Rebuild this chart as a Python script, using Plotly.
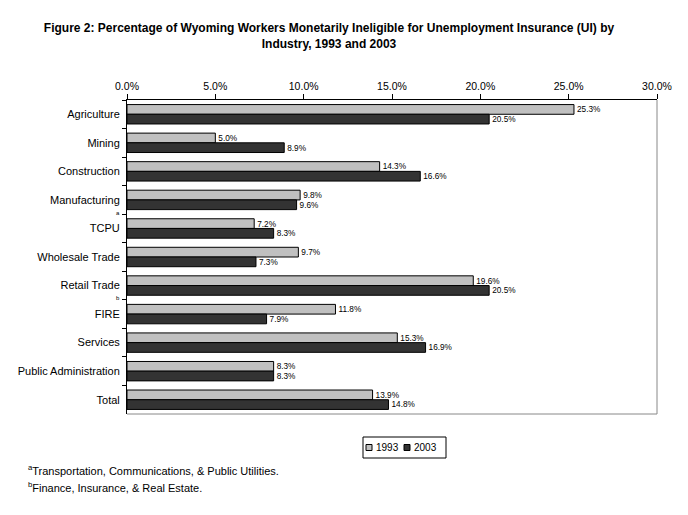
import plotly.graph_objects as go

categories = ["Agriculture", "Mining", "Construction", "Manufacturing", "TCPU",
              "Wholesale Trade", "Retail Trade", "FIRE", "Services",
              "Public Administration", "Total"]
values_1993 = [25.3, 5.0, 14.3, 9.8, 7.2, 9.7, 19.6, 11.8, 15.3, 8.3, 13.9]
values_2003 = [20.5, 8.9, 16.6, 9.6, 8.3, 7.3, 20.5, 7.9, 16.9, 8.3, 14.8]
series_names = ["1993", "2003"]
series_colors = ["#C0C0C0", "#333333"]
tick_values = [0, 5, 10, 15, 20, 25, 30]

LF = "Liberation Sans"

# plot area in screen pixels (page has an 8px body margin)
PX0, PX1, PY0, PY1 = 127, 657, 100, 414


def px(sx):
    return (sx - PX0) / (PX1 - PX0)


def py(sy):
    return (PY1 - sy) / (PY1 - PY0)


fig = go.Figure()
for name, vals, col in zip(series_names, [values_1993, values_2003], series_colors):
    fig.add_trace(go.Bar(
        y=categories, x=vals, name=name, orientation="h",
        marker=dict(color=col, line=dict(color="black", width=1)),
        text=[f"{v:.1f}%" for v in vals], textposition="outside",
        textfont=dict(family=LF, size=8.5, color="black"), cliponaxis=False,
        showlegend=False,
    ))

shapes = [
    dict(type="line", xref="paper", yref="paper", x0=1, x1=1, y0=0, y1=1,
         line=dict(color="#888888", width=1)),
    dict(type="line", xref="paper", yref="paper", x0=0, x1=1, y0=0, y1=0,
         line=dict(color="#888888", width=1)),
    # legend box
    dict(type="rect", xref="paper", yref="paper", x0=px(363), x1=px(446),
         y0=py(458), y1=py(437), line=dict(color="black", width=1), fillcolor="white"),
]
annotations = [
    dict(text="a", xref="paper", yref="y", x=px(118), y=3.45, showarrow=False,
         font=dict(family=LF, size=6, color="black"), xanchor="center"),
    dict(text="b", xref="paper", yref="y", x=px(118), y=6.45, showarrow=False,
         font=dict(family=LF, size=6, color="black"), xanchor="center"),
    dict(text="<sup>a</sup>Transportation, Communications, & Public Utilities.",
         xref="paper", yref="paper", x=px(26), y=py(470), xanchor="left", yanchor="middle",
         showarrow=False, font=dict(family=LF, size=11, color="black")),
    dict(text="<sup>b</sup>Finance, Insurance, & Real Estate.",
         xref="paper", yref="paper", x=px(26), y=py(487), xanchor="left", yanchor="middle",
         showarrow=False, font=dict(family=LF, size=11, color="black")),
]
# legend entries
leg_sq = [(366, 372), (404, 410)]
leg_tx = [374, 412]
for (sx0, sx1), tx, name, col in zip(leg_sq, leg_tx, series_names, series_colors):
    shapes.append(dict(type="rect", xref="paper", yref="paper", x0=px(sx0), x1=px(sx1),
                       y0=py(450.5), y1=py(444.5), line=dict(color="black", width=1),
                       fillcolor=col))
    annotations.append(dict(text=name, xref="paper", yref="paper", x=px(tx), y=py(447.5),
                            xanchor="left", yanchor="middle", showarrow=False,
                            font=dict(family=LF, size=10, color="black")))

fig.update_layout(
    width=688, height=515,
    margin=dict(l=PX0 - 8, r=688 + 8 - PX1, t=PY0 - 8, b=515 + 8 - PY1),
    paper_bgcolor="white", plot_bgcolor="white",
    barmode="group", bargap=0.32, bargroupgap=0,
    title=dict(
        text="Figure 2: Percentage of Wyoming Workers Monetarily Ineligible for Unemployment Insurance (UI) by<br>Industry, 1993 and 2003",
        x=321 / 688, xanchor="center", y=1 - 24 / 515, yanchor="top",
        font=dict(family=LF, size=12, color="black", weight="bold"),
    ),
    xaxis=dict(
        side="top", range=[0, 30], tickvals=tick_values,
        ticktext=[f"{v:.1f}%" for v in tick_values],
        ticks="outside", ticklen=5, tickcolor="black",
        showline=True, linecolor="black", linewidth=1,
        showgrid=False, zeroline=False, automargin=False,
        tickfont=dict(family=LF, size=10.5, color="black"),
    ),
    yaxis=dict(
        autorange="reversed", type="category",
        ticks="outside", ticklen=4, tickcolor="black", tickson="boundaries",
        ticklabelstandoff=4, automargin=False,
        showline=True, linecolor="black", linewidth=1, showgrid=False,
        tickfont=dict(family=LF, size=11, color="black"),
    ),
    showlegend=False,
    shapes=shapes,
    annotations=annotations,
)

fig.write_html("out.html")
